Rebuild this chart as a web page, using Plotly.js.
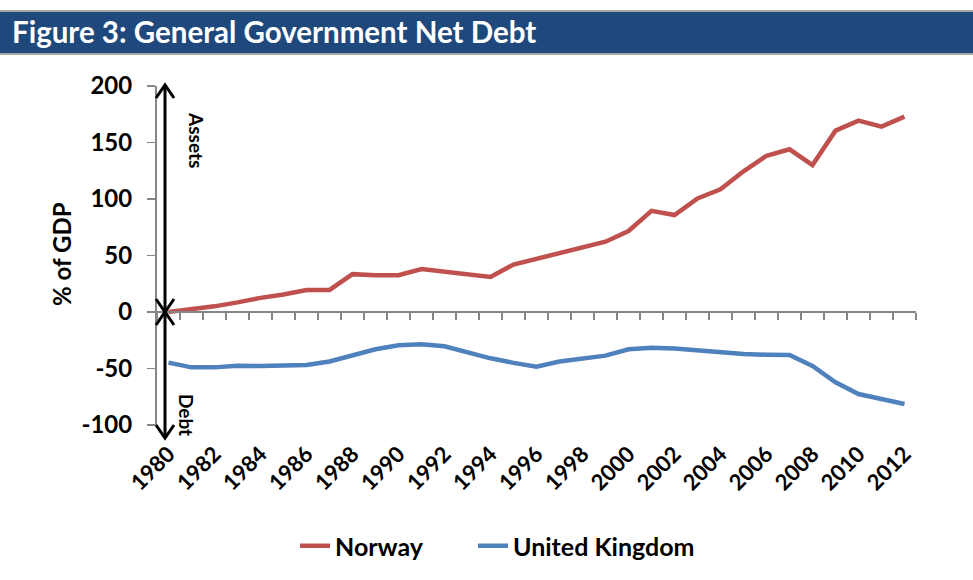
<!DOCTYPE html>
<html>
<head>
<meta charset="utf-8">
<script src="https://cdn.plot.ly/plotly-3.0.1.min.js"></script>
<style>html,body{margin:0;padding:0;background:#fff;}#chart{width:973px;height:580px;}</style>
</head>
<body>
<div id="chart"></div>
<script>
const years = [1980,1981,1982,1983,1984,1985,1986,1987,1988,1989,1990,1991,1992,1993,1994,1995,1996,1997,1998,1999,2000,2001,2002,2003,2004,2005,2006,2007,2008,2009,2010,2011,2012];
const norway = [0,2.5,5,8.5,12.5,15.5,19.5,19.5,33.5,32.5,32.5,38,35.5,33,31,42,46.8,52.5,57.2,62.2,71.7,89.5,85.8,100.5,108.6,124.5,138.3,144,130,160.5,169.3,164,172.9];
const uk = [-44.8,-49,-49,-47.5,-47.8,-47.5,-46.8,-43.8,-38.5,-33,-29.5,-28.5,-30.3,-35.8,-41,-45,-48.5,-43.8,-41,-38.6,-33,-31.6,-32.2,-34.2,-35.7,-37.2,-37.8,-38,-47.8,-62.2,-72.6,-77,-81.4];
const yTicks = [-100,-50,0,50,100,150,200];
const yTickText = yTicks.map(v => String(v));

const FONT = 'Lato, "Open Sans", "Liberation Sans", sans-serif';

// plot area in pixels
const L = 157, R = 57, T = 86, B = 155, W = 973, H = 580;
const PW = W - L - R, PH = H - T - B;
const px = v => (v - L) / PW;
const py = v => (H - B - v) / PH;

const arrowX = px(165);
const hw = 9 / PW, hh = 13 / PH;
function chevron(xc, ytip, dir) { // dir +1 points up, -1 points down
  const yb = ytip - dir * hh;
  return `M${xc - hw},${yb} L${xc},${ytip} L${xc + hw},${yb}`;
}
const aTop = py(85), aZero = py(312), aBot = py(438);

const traces = [
  {x: years, y: norway, name: 'Norway', mode: 'lines', type: 'scatter', xaxis: 'x', yaxis: 'y',
   legend: 'legend', line: {color: '#C0504D', width: 4.5}},
  {x: years, y: uk, name: 'United Kingdom', mode: 'lines', type: 'scatter', xaxis: 'x2', yaxis: 'y',
   legend: 'legend2', line: {color: '#4F81BD', width: 4.5}}
];

const legendBase = {orientation: 'h', xref: 'container', yref: 'container', xanchor: 'left',
  y: (H - 546) / H, yanchor: 'middle', bgcolor: 'rgba(0,0,0,0)',
  font: {family: FONT, size: 25, color: '#000', weight: 'bold'}};

const layout = {
  width: W, height: H,
  margin: {l: L, r: R, t: T, b: B, pad: 0},
  paper_bgcolor: '#ffffff', plot_bgcolor: 'rgba(0,0,0,0)',
  font: {family: FONT, color: '#000'},
  title: {text: '<b>Figure 3: General Government Net Debt</b>', xref: 'container', yref: 'container',
          x: 12 / W, xanchor: 'left', y: (H - 33) / H, yanchor: 'middle',
          font: {family: FONT, size: 29.5, color: '#ffffff'}},
  showlegend: true,
  legend: Object.assign({}, legendBase, {x: 295 / W}),
  legend2: Object.assign({}, legendBase, {x: 473 / W}),
  xaxis: {type: 'linear', range: [1979.5, 2012.5], tick0: 1980, dtick: 2, tickangle: -45,
          ticks: '', showline: false, showgrid: false, zeroline: false,
          ticklabelstandoff: 11,
          tickfont: {family: FONT, size: 22, color: '#000', weight: 'bold'}, fixedrange: true},
  xaxis2: {type: 'linear', overlaying: 'x', anchor: 'free', position: 1/3, side: 'bottom',
           range: [1979.5, 2012.5], tick0: 1979.5, dtick: 1, ticks: 'outside', ticklen: 7,
           tickwidth: 1.5, tickcolor: '#868686', showticklabels: false, showline: true,
           linecolor: '#868686', linewidth: 2, showgrid: false, zeroline: false},
  yaxis: {range: [-100, 200], tickvals: yTicks, ticktext: yTickText, ticks: 'outside', ticklen: 8, tickwidth: 1.5,
          tickcolor: '#868686', showline: true, linecolor: '#868686', linewidth: 2,
          showgrid: false, zeroline: false, ticklabelstandoff: 10,
          tickfont: {family: FONT, size: 24, color: '#000', weight: 'bold'}},
  shapes: [
    {type: 'rect', xref: 'paper', yref: 'paper', x0: px(0), x1: px(W), y0: py(10), y1: py(55),
     fillcolor: '#A6A6A6', line: {width: 0}, layer: 'below'},
    {type: 'rect', xref: 'paper', yref: 'paper', x0: px(0), x1: px(W), y0: py(12), y1: py(53),
     fillcolor: '#1F497D', line: {width: 0}, layer: 'below'},
    {type: 'line', xref: 'paper', yref: 'paper', x0: arrowX, x1: arrowX, y0: aTop, y1: aBot,
     line: {color: '#000', width: 3}},
    {type: 'path', xref: 'paper', yref: 'paper', path: chevron(arrowX, aTop, 1), line: {color: '#000', width: 3}},
    {type: 'path', xref: 'paper', yref: 'paper', path: chevron(arrowX, aZero, -1), line: {color: '#000', width: 3}},
    {type: 'path', xref: 'paper', yref: 'paper', path: chevron(arrowX, aZero, 1), line: {color: '#000', width: 3}},
    {type: 'path', xref: 'paper', yref: 'paper', path: chevron(arrowX, aBot, -1), line: {color: '#000', width: 3}}
  ],
  annotations: [
    {text: '<b>% of GDP</b>', xref: 'paper', yref: 'paper', x: px(61), y: py(254), textangle: -90,
     xanchor: 'center', yanchor: 'middle',
     showarrow: false, font: {family: FONT, size: 24, color: '#000'}},
    {text: '<b>Assets</b>', xref: 'paper', yref: 'paper', x: px(197), y: py(140), textangle: 90,
     xanchor: 'center', yanchor: 'middle',
     showarrow: false, font: {family: FONT, size: 19, color: '#000'}},
    {text: '<b>Debt</b>', xref: 'paper', yref: 'paper', x: px(187), y: py(415), textangle: 90,
     xanchor: 'center', yanchor: 'middle',
     showarrow: false, font: {family: FONT, size: 19, color: '#000'}}
  ]
};

Plotly.newPlot('chart', traces, layout, {displayModeBar: false, staticPlot: true});
</script>
</body>
</html>
